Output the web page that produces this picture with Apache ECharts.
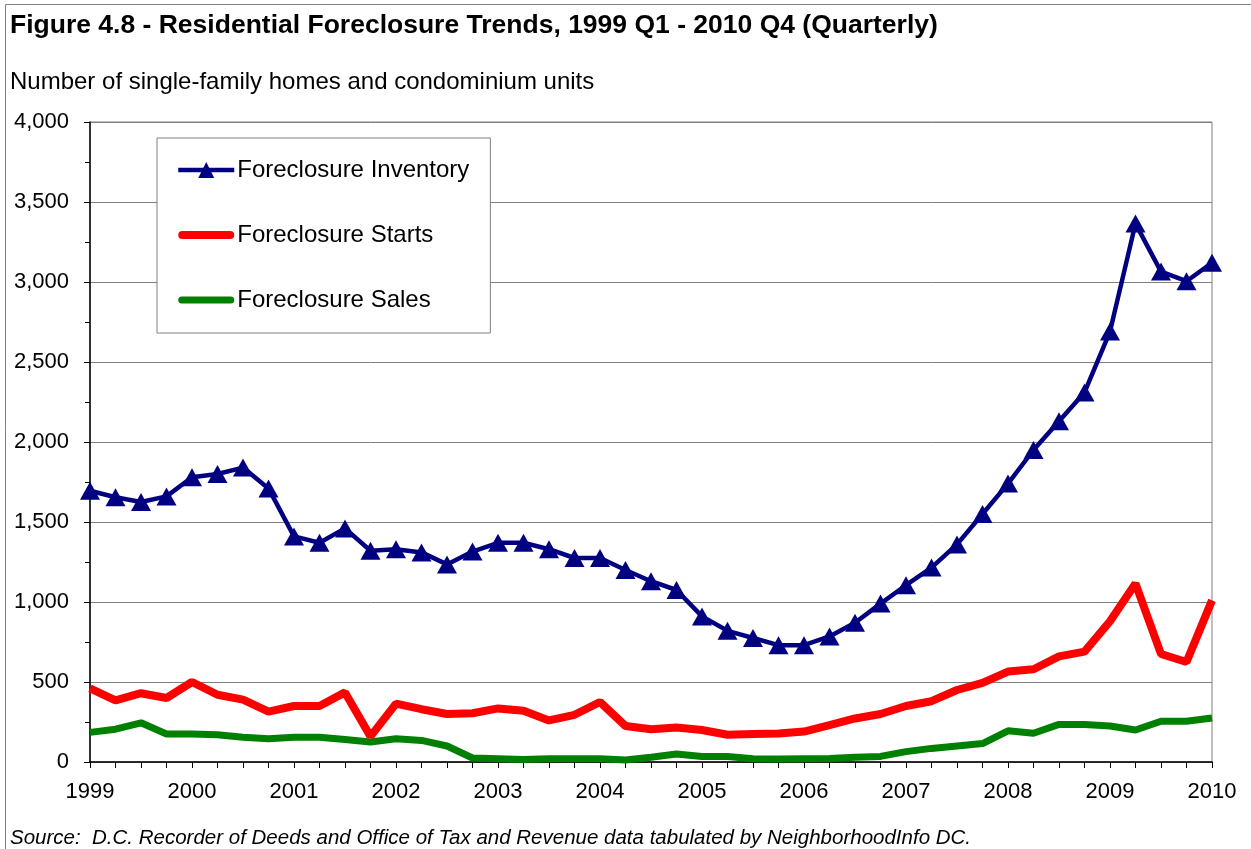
<!DOCTYPE html>
<html>
<head>
<meta charset="utf-8">
<title>Residential Foreclosure Trends</title>
<script src="https://cdn.jsdelivr.net/npm/echarts@6/dist/echarts.min.js"></script>
<style>
html, body { margin: 0; padding: 0; background: #fff; }
#Main { width: 1251px; height: 849px; }
</style>
</head>
<body>
<div id="Main"></div>
<script>
//季度分类
var quarters = [
	'1999 Q1', '1999 Q2', '1999 Q3', '1999 Q4', '2000 Q1', '2000 Q2', '2000 Q3', '2000 Q4',
	'2001 Q1', '2001 Q2', '2001 Q3', '2001 Q4', '2002 Q1', '2002 Q2', '2002 Q3', '2002 Q4',
	'2003 Q1', '2003 Q2', '2003 Q3', '2003 Q4', '2004 Q1', '2004 Q2', '2004 Q3', '2004 Q4',
	'2005 Q1', '2005 Q2', '2005 Q3', '2005 Q4', '2006 Q1', '2006 Q2', '2006 Q3', '2006 Q4',
	'2007 Q1', '2007 Q2', '2007 Q3', '2007 Q4', '2008 Q1', '2008 Q2', '2008 Q3', '2008 Q4',
	'2009 Q1', '2009 Q2', '2009 Q3', '2009 Q4', '2010 Q1'
];
//Foreclosure Inventory
var inventory = [
	1695, 1655, 1625, 1660, 1780, 1800, 1840, 1710, 1410, 1370, 1460, 1320, 1330, 1310, 1235, 1315,
	1370, 1370, 1330, 1275, 1275, 1200, 1130, 1075, 910, 820, 775, 730, 730, 785, 870, 990,
	1105, 1215, 1360, 1550, 1740, 1950, 2130, 2310, 2690, 3365, 3065, 3005, 3120
];
//Foreclosure Starts
var starts = [
	460, 385, 430, 400, 500, 420, 390, 315, 350, 350, 435, 160, 365, 330, 300, 305,
	335, 320, 260, 295, 375, 225, 205, 215, 200, 170, 175, 178, 190, 230, 272, 300,
	350, 380, 450, 495, 565, 580, 660, 690, 880, 1115, 675, 625, 1010
];
//Foreclosure Sales
var sales = [
	185, 205, 245, 175, 175, 170, 155, 145, 155, 155, 140, 125, 145, 135, 100, 25,
	20, 15, 20, 20, 20, 12, 30, 50, 35, 35, 20, 18, 20, 22, 30, 35,
	65, 85, 100, 115, 195, 180, 235, 235, 225, 200, 255, 255, 275
];
var yMin = 0, yMax = 4000, yStep = 500;

var font = "'Liberation Sans', Arial, sans-serif";
// 图例里的粗线条（红、绿）
var barRed = 'path://M4,0 H52 A4,4 0 0 1 52,8 H4 A4,4 0 0 1 4,0 Z';
var barGreen = 'path://M3.5,0 H52.5 A3.5,3.5 0 0 1 52.5,7 H3.5 A3.5,3.5 0 0 1 3.5,0 Z';

var myChart = echarts.init(document.getElementById('Main'));
myChart.setOption({
	backgroundColor: '#fff',
	textStyle: { fontFamily: font, color: '#000' },
	title: [{
		text: 'Figure 4.8 - Residential Foreclosure Trends, 1999 Q1 - 2010 Q4 (Quarterly)',
		left: 10, top: 12, padding: 0,
		textStyle: { fontSize: 26.5, fontWeight: 'bold', color: '#000', fontFamily: font }
	}, {
		text: 'Number of single-family homes and condominium units',
		left: 10, top: 70, padding: 0,
		textStyle: { fontSize: 24, fontWeight: 'normal', color: '#000', fontFamily: font }
	}, {
		text: 'Source:  D.C. Recorder of Deeds and Office of Tax and Revenue data tabulated by NeighborhoodInfo DC.',
		left: 10, top: 828, padding: 0,
		textStyle: { fontSize: 20.5, fontWeight: 'normal', fontStyle: 'italic', color: '#000', fontFamily: font }
	}],
	graphic: [{
		type: 'rect',
		silent: true,
		shape: { x: 5.5, y: 4.5, width: 1260, height: 860 },
		style: { fill: 'none', stroke: '#808080', lineWidth: 1 }
	}],
	legend: {
		orient: 'vertical',
		left: 157, top: 138,
		padding: [20, 21, 21, 19],
		itemGap: 41,
		itemWidth: 56,
		itemHeight: 20,
		symbolKeepAspect: true,
		borderColor: '#808080',
		borderWidth: 1,
		backgroundColor: '#fff',
		lineStyle: { width: 'inherit' },
		textStyle: { fontSize: 24, color: '#000', fontFamily: font, padding: [0, 0, 0, -2] },
		data: [
			{ name: 'Foreclosure Inventory' },
			{ name: 'Foreclosure Starts', icon: barRed },
			{ name: 'Foreclosure Sales', icon: barGreen }
		]
	},
	grid: {
		left: 90, top: 122, width: 1122, height: 640,
		show: true, borderColor: '#808080', borderWidth: 1
	},
	xAxis: {
		type: 'category',
		boundaryGap: false,
		data: quarters,
		axisLine: { lineStyle: { color: '#000', width: 1.5 } },
		axisTick: { show: true, interval: 0, length: 6, lineStyle: { color: '#000' } },
		axisLabel: {
			interval: 3, margin: 19, fontSize: 22, color: '#000', fontFamily: font,
			formatter: function(v) { return v.slice(0, 4); }
		},
		splitLine: { show: false }
	},
	yAxis: {
		type: 'value',
		min: yMin, max: yMax, interval: yStep,
		axisLine: { show: true, lineStyle: { color: '#000', width: 1.5 } },
		axisTick: { show: true, length: 6, lineStyle: { color: '#000' } },
		minorTick: { show: true, splitNumber: 2, length: 5, lineStyle: { color: '#000' } },
		axisLabel: {
			margin: 21, fontSize: 22, color: '#000', fontFamily: font,
			formatter: function(v) { return v.toLocaleString('en-US'); }
		},
		splitLine: { show: true, lineStyle: { color: '#808080', width: 1 } }
	},
	series: [{
		name: 'Foreclosure Inventory',
		type: 'line',
		data: inventory,
		symbol: 'triangle',
		symbolSize: [20, 18],
		showAllSymbol: true,
		z: 5,
		itemStyle: { color: '#000080' },
		lineStyle: { color: '#000080', width: 4.5 }
	}, {
		name: 'Foreclosure Starts',
		type: 'line',
		data: starts,
		symbol: 'none',
		z: 4,
		itemStyle: { color: '#ff0000' },
		lineStyle: { color: '#ff0000', width: 8 }
	}, {
		name: 'Foreclosure Sales',
		type: 'line',
		data: sales,
		symbol: 'none',
		z: 3,
		itemStyle: { color: '#008000' },
		lineStyle: { color: '#008000', width: 7 }
	}]
});
</script>
</body>
</html>
